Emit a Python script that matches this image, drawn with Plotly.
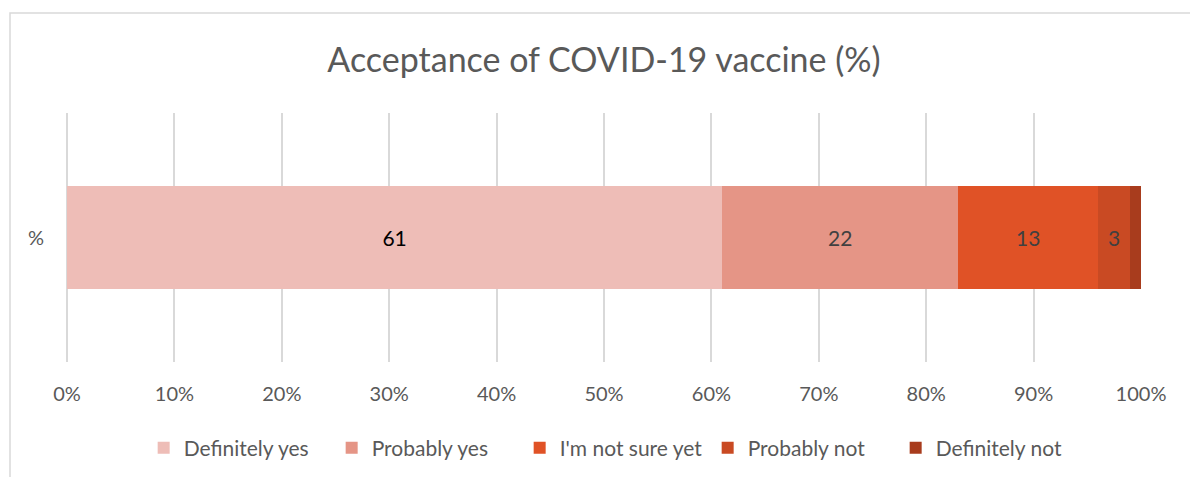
import plotly.graph_objects as go

categories = ["%"]
series_names = ["Definitely yes", "Probably yes", "I'm not sure yet", "Probably not", "Definitely not"]
series_values = [61, 22, 13, 3, 1]
series_labels = ["61", "22", "13", "3", ""]
colors = ["#EEBDB7", "#E59586", "#E05226", "#C94A23", "#A83C1D"]
label_colors = ["#000000", "#404040", "#404040", "#404040", "#404040"]
tick_vals = [0, 10, 20, 30, 40, 50, 60, 70, 80, 90, 100]
tick_text = ["0%", "10%", "20%", "30%", "40%", "50%", "60%", "70%", "80%", "90%", "100%"]

FONT = "Lato, 'Open Sans', sans-serif"

fig = go.Figure()
for name, v, lab, c, lc in zip(series_names, series_values, series_labels, colors, label_colors):
    fig.add_trace(go.Bar(
        y=categories, x=[v], name=name, orientation="h",
        marker=dict(color=c, line=dict(width=0)),
        text=[lab], textposition="inside", insidetextanchor="middle",
        textfont=dict(size=21, color=lc, family=FONT),
        hoverinfo="skip",
    ))

W, H = 1190, 477
ml, mr, mt, mb = 67, 49, 113, 115
pw, ph = W - ml - mr, H - mt - mb

fig.update_layout(
    width=W, height=H, barmode="stack", bargap=0.59,
    margin=dict(l=ml, r=mr, t=mt, b=mb, autoexpand=False),
    paper_bgcolor="white", plot_bgcolor="white",
    font=dict(family=FONT, color="#595959", size=20),
    title=dict(text="Acceptance of COVID-19 vaccine (%)", x=0.5, xanchor="center", xref="paper",
               y=1 - 60 / H, yanchor="middle", yref="container",
               font=dict(size=34, color="#595959", family=FONT)),
    xaxis=dict(range=[0, 100], tickvals=tick_vals, ticktext=tick_text, showgrid=True,
               gridcolor="#D9D9D9", gridwidth=1.5, zeroline=True, zerolinecolor="#D9D9D9",
               zerolinewidth=1.5, showline=False,
               ticklabelstandoff=18, tickfont=dict(size=20, color="#595959")),
    yaxis=dict(showgrid=False, zeroline=False, showline=False, ticklabelstandoff=22,
               tickfont=dict(size=20, color="#595959")),
    legend=dict(orientation="h", x=0.509, xanchor="center", y=(H - mb - 448) / ph,
                yanchor="middle", traceorder="normal", font=dict(size=21, color="#595959"),
                entrywidth=143, entrywidthmode="pixels", itemclick=False),
    showlegend=True,
)

# chart-area border (top & left visible)
fig.add_shape(type="rect", xref="paper", yref="paper",
              x0=(10 - ml) / pw, x1=(W + 20 - ml) / pw,
              y0=(H - mb - (H + 20)) / ph, y1=(H - mb - 13) / ph,
              line=dict(color="#D9D9D9", width=1.5), fillcolor="rgba(0,0,0,0)", layer="below")

fig.write_html("out.html")
